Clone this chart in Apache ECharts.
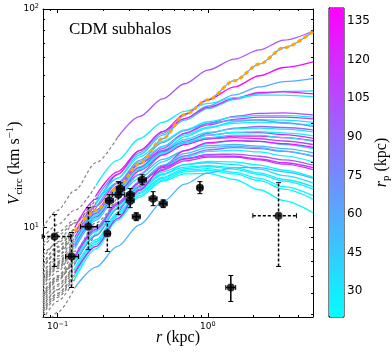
<!DOCTYPE html>
<html>
<head>
<meta charset="utf-8">
<script src="https://cdn.jsdelivr.net/npm/echarts@6/dist/echarts.min.js"></script>
<style>
html, body { margin: 0; padding: 0; background: #fff; }
#chart { width: 392px; height: 352px; }
</style>
</head>
<body>
<div id="chart"></div>
<script>
const rGrid = [0.08, 0.1, 0.13, 0.18, 0.25, 0.35, 0.5, 0.7, 1.0, 1.5, 2.2, 3.2, 5];

// pericentre of every subhalo (kpc)
const curveRp = [100, 62, 135, 60, 45, 125, 28, 105, 112, 35, 25, 95, 32, 132, 110, 40, 55,
	25, 100, 115, 22, 35, 28, 24, 22, 55, 26, 30, 70, 120, 38, 90, 130, 24, 48, 118, 27];
// index in rGrid where the curve becomes resolved (dashed grey before it)
const curveConv = [4, 2, 3, 3, 3, 2, 3, 4, 2, 2, 3, 4, 2, 2, 2, 4, 2,
	2, 4, 2, 2, 2, 2, 2, 2, 2, 2, 2, 3, 2, 2, 2, 2, 2, 3, 2, 3];
// Vcirc (km/s) on rGrid
const curveV = [
	[10, 12, 14.8, 19.8, 25.8, 32.2, 38.8, 45.5, 52.5, 59, 65, 72, 79.3],
	[6.5, 7.8, 9.6, 12, 15.2, 19.6, 25.5, 32.8, 38.4, 47, 56, 66.5, 79],
	[7.2, 8.6, 10.5, 14, 18, 22.5, 27.5, 33, 38.4, 44, 49.5, 54, 57.3],
	[8.2, 9.2, 10.5, 13.5, 17.5, 22, 27, 31.5, 36, 40.5, 44, 46.5, 48],
	[6.6, 7.8, 9.5, 12.8, 16.8, 21.5, 26.5, 31, 35, 38.5, 41, 42, 42.2],
	[6.8, 8.2, 10, 13.5, 17.5, 22.5, 27.5, 31.5, 35.5, 39, 41.5, 41.8, 40.9],
	[9, 10.3, 12, 15.6, 20.3, 25.5, 30.3, 34, 37, 39.3, 40.4, 40.4, 39.7],
	[7.5, 8.5, 9.8, 12, 14.8, 18.8, 23, 27, 30, 32.3, 33.3, 33.5, 32.8],
	[6.2, 7.4, 9, 12, 15.5, 19.5, 23.5, 27, 29.5, 31.3, 32, 32, 31.4],
	[5.5, 6.6, 8.2, 11, 14.5, 18.5, 22.5, 26, 28.5, 30.5, 31.2, 31, 30.3],
	[8.5, 9.5, 10.8, 13, 16, 20, 23.5, 26.5, 28.8, 30, 30.4, 30, 29.4],
	[5.2, 6.3, 7.8, 10.5, 13.8, 17.5, 21.5, 24.5, 27, 28.5, 29, 28.7, 28],
	[6, 7.2, 8.8, 11.8, 15.2, 19, 22.5, 25.3, 27.3, 28.3, 28.5, 28.2, 27.4],
	[5.6, 6.7, 8.3, 11.2, 14.5, 18.2, 21.5, 24, 25.5, 26.2, 26.2, 25.8, 25],
	[6.5, 7.7, 9.4, 12.5, 16, 19.6, 22.5, 24.5, 25.5, 25.8, 25.5, 24.9, 24],
	[5, 6, 7.5, 10.2, 13.3, 16.8, 20, 22.5, 24.2, 25, 24.8, 24, 23],
	[5.4, 6.5, 8, 10.8, 14, 17.5, 20.5, 22.5, 23.7, 24, 23.6, 23, 22],
	[4.8, 5.8, 7.2, 9.8, 12.8, 16, 19, 21, 22.3, 22.6, 22.2, 21.3, 20],
	[4.4, 5.2, 6.4, 8.6, 11.5, 15, 18.5, 20.7, 21.6, 21.7, 21.2, 20.4, 19.3],
	[4.5, 5.4, 6.8, 9.2, 12.2, 15.4, 18.3, 20.2, 21, 21, 20.4, 19.5, 18.4],
	[4.3, 5.2, 6.5, 8.8, 11.7, 14.8, 17.5, 19.4, 20.1, 20, 19.3, 18.3, 17],
	[4.8, 5.8, 7.1, 9.6, 12.6, 15.6, 18, 19.4, 19.8, 19.4, 18.5, 17.3, 16],
	[4.2, 5, 6.3, 8.6, 11.5, 14.5, 17, 18.6, 19, 18.5, 17.5, 16.3, 15],
	[4, 4.8, 6, 8.2, 11, 14, 16.5, 18, 18.3, 17.6, 16.4, 15, 13.5],
	[3.8, 4.6, 5.8, 8, 10.8, 13.8, 16.3, 17.6, 17.7, 16.6, 14.9, 13.3, 11.7],
	[3.3, 4.1, 5.3, 6.6, 8.2, 10.3, 13.1, 15.8, 17.8, 18.8, 18.8, 18, 16.8],
	[4.1, 4.9, 6.1, 8.4, 11.3, 14.3, 16.8, 18.3, 18.6, 17.9, 16.8, 15.4, 14],
	[4.6, 5.5, 6.9, 9.3, 12.3, 15.2, 17.6, 18.9, 19.2, 18.8, 17.8, 16.6, 15.4],
	[6.2, 7.4, 9.1, 12.3, 16, 20.3, 24.5, 27.8, 30, 31, 31, 30.2, 29],
	[5.9, 7, 8.6, 11.6, 15, 18.8, 22.2, 24.8, 26.5, 27.2, 27.2, 26.6, 25.6],
	[5.7, 6.8, 8.4, 11.3, 14.7, 18.4, 21.8, 24.3, 25.8, 26.5, 26.4, 25.8, 24.8],
	[5, 6, 7.4, 10, 13, 16.2, 19.2, 21.3, 22.7, 23.2, 23, 22.3, 21.2],
	[4.2, 5, 6.2, 8.2, 11, 14.8, 19, 22.5, 24.5, 25, 24.8, 24.2, 23.3],
	[5.8, 6.9, 8.5, 11.4, 14.8, 18.6, 22, 24.6, 26.4, 27.3, 27.5, 27.1, 26.3],
	[4.7, 5.7, 7, 9.5, 12.6, 16, 19.3, 21.8, 23.2, 23.6, 23.2, 22.4, 21.3],
	[4.9, 5.9, 7.3, 9.8, 12.8, 16, 18.8, 20.6, 21.3, 21.2, 20.6, 19.8, 18.8],
	[6.8, 8.1, 9.8, 13, 16.8, 21, 24.8, 28, 30.5, 32, 32.6, 32.5, 32]
];

// highlighted (orange dotted) curve
const fitR = [0.13, 0.18, 0.25, 0.35, 0.5, 0.7, 1.0, 1.5, 2.2, 3.2, 5];
const fitV = [9.6, 12, 15.2, 19.6, 25.5, 32.8, 38.4, 47, 56, 66.5, 79];

// observed dwarf rotation points with errors
const obsR   = [0.0955, 0.1238, 0.1604, 0.2143, 0.221, 0.2535, 0.2614, 0.304, 0.304, 0.334, 0.3656, 0.432, 0.504, 0.885, 2.95, 1.42];
const obsV   = [9.1, 7.37, 10.1, 9.39, 13.28, 14.15, 15.07, 14.15, 13.28, 11.22, 16.56, 13.56, 12.87, 15.23, 11.34, 5.32];
const obsRLo = [0.079, 0.113, 0.142, 0.205, 0.208, 0.231, 0.246, 0.286, 0.286, 0.314, 0.344, 0.406, 0.474, 0.85, 1.99, 1.315];
const obsRHi = [0.122, 0.1377, 0.184, 0.224, 0.235, 0.278, 0.278, 0.323, 0.323, 0.355, 0.389, 0.459, 0.536, 0.92, 3.88, 1.53];
const obsVLo = [6.64, 5.32, 7.93, 7.77, 12.34, 11.47, 14.15, 13.3, 12.34, 10.76, 15.7, 12.6, 12.34, 14.3, 6.64, 4.59];
const obsVHi = [11.47, 9.49, 12.34, 10.65, 14.15, 16.23, 16.05, 15.1, 14.3, 11.7, 17.45, 14.6, 13.4, 16.23, 16.05, 6.04];
const obsDashV = [1, 1, 1, 1, 0, 1, 0, 0, 0, 0, 0, 0, 0, 0, 1, 0];
const obsDashH = [1, 0, 0, 0, 0, 0, 0, 0, 0, 0, 0, 0, 0, 0, 1, 0];

// tick positions
const xMajor = [0.1, 1];
const xMinor = [0.09, 0.2, 0.3, 0.4, 0.5, 0.6, 0.7, 0.8, 0.9, 2, 3, 4];
const yMajor = [10, 100];
const yMinor = [4, 5, 6, 7, 8, 9, 20, 30, 40, 50, 60, 70, 80, 90];
const cbTicks = [30, 45, 60, 75, 90, 105, 120, 135];

const SERIF = 'Liberation Serif';
const SANS = 'DejaVu Sans';

function coolColor(rp) {
	const t = Math.min(1, Math.max(0, (rp - 20) / 120));
	return 'rgb(' + Math.round(255 * t) + ',' + Math.round(255 * (1 - t)) + ',255)';
}

const powLabel = {
	formatter: (v) => '{b|10}{s|' + String(Math.round(Math.log10(v))).replace('-', '\u2212') + '}',
	rich: {
		b: { fontFamily: SANS, fontSize: 9, lineHeight: 12, color: '#000' },
		s: { fontFamily: SANS, fontSize: 6.5, lineHeight: 6, verticalAlign: 'top', color: '#000' }
	}
};

// one log axis per side and per tick size (matplotlib inward ticks on all four sides)
function logAxis(position, min, max, ticks, len, withLabels) {
	return {
		type: 'log',
		logBase: 10,
		gridIndex: 0,
		position: position,
		min: min,
		max: max,
		axisLine: { show: len > 3, lineStyle: { color: '#000', width: 1 } },
		axisTick: { show: true, inside: true, length: len, customValues: ticks, lineStyle: { color: '#000', width: 1 } },
		axisLabel: withLabels ? Object.assign({ show: true, customValues: ticks, margin: 4 }, powLabel) : { show: false },
		splitLine: { show: false },
		minorTick: { show: false }
	};
}

const xAxes = [
	logAxis('bottom', 0.08, 5, xMajor, 4, true),
	logAxis('bottom', 0.08, 5, xMinor, 2, false),
	logAxis('top', 0.08, 5, xMajor, 4, false),
	logAxis('top', 0.08, 5, xMinor, 2, false)
];
Object.assign(xAxes[0], {
	name: '{i|r} (kpc)',
	nameLocation: 'middle',
	nameGap: 13,
	nameMoveOverlap: false,
	nameTextStyle: {
		fontFamily: SERIF, fontSize: 16, color: '#000',
		rich: { i: { fontFamily: SERIF, fontSize: 16, fontStyle: 'italic', color: '#000' } }
	}
});

const yAxes = [
	logAxis('left', 3.9, 100, yMajor, 4, true),
	logAxis('left', 3.9, 100, yMinor, 2, false),
	logAxis('right', 3.9, 100, yMajor, 4, false),
	logAxis('right', 3.9, 100, yMinor, 2, false)
];
Object.assign(yAxes[0], {
	name: '{i|V}{sub|circ}{n| (km s}{sup|\u22121}{n|)}',
	nameLocation: 'middle',
	nameRotate: 90,
	nameGap: 18,
	nameMoveOverlap: false,
	nameTextStyle: {
		fontFamily: SERIF, fontSize: 16, color: '#000',
		rich: {
			i: { fontFamily: SERIF, fontSize: 16, fontStyle: 'italic', lineHeight: 20, color: '#000' },
			n: { fontFamily: SERIF, fontSize: 16, lineHeight: 20, color: '#000' },
			sub: { fontFamily: SERIF, fontSize: 11, lineHeight: 10, verticalAlign: 'bottom', color: '#000' },
			sup: { fontFamily: SERIF, fontSize: 11, lineHeight: 10, verticalAlign: 'top', color: '#000' }
		}
	}
});

// colorbar axis
xAxes.push({ type: 'value', gridIndex: 1, show: false, min: 0, max: 1 });
yAxes.push({
	type: 'value',
	gridIndex: 1,
	position: 'right',
	min: 20,
	max: 140,
	axisLine: { show: true, lineStyle: { color: '#000', width: 1 } },
	axisTick: { show: true, inside: false, length: 3, customValues: cbTicks, lineStyle: { color: '#000' } },
	axisLabel: { show: true, customValues: cbTicks, margin: 3, fontFamily: SANS, fontSize: 12, color: '#000' },
	splitLine: { show: false },
	name: '{i|r}{sub|p}{n| (kpc)}',
	nameLocation: 'middle',
	nameRotate: 90,
	nameGap: 28,
	nameMoveOverlap: false,
	nameTextStyle: {
		fontFamily: SERIF, fontSize: 16, color: '#000',
		rich: {
			i: { fontFamily: SERIF, fontSize: 16, fontStyle: 'italic', lineHeight: 20, color: '#000' },
			n: { fontFamily: SERIF, fontSize: 16, lineHeight: 20, color: '#000' },
			sub: { fontFamily: SERIF, fontSize: 11, lineHeight: 10, verticalAlign: 'bottom', color: '#000' }
		}
	}
});

const lineCommon = {
	xAxisIndex: 0,
	yAxisIndex: 0,
	showSymbol: false,
	symbol: 'none',
	smooth: 0.3,
	smoothMonotone: 'x',
	silent: true,
	animation: false
};

const series = [];

// unresolved inner parts, grey dashed
curveV.forEach((vals, i) => {
	const pts = rGrid.map((r, k) => [r, vals[k]]);
	series.push(Object.assign({
		type: 'line',
		data: pts.slice(0, curveConv[i] + 1),
		z: 2,
		lineStyle: { color: '#808080', width: 1.2, type: [3, 2.5] }
	}, lineCommon));
});

// resolved parts coloured by pericentre
curveV.forEach((vals, i) => {
	const pts = rGrid.map((r, k) => [r, vals[k]]);
	series.push(Object.assign({
		type: 'line',
		data: pts.slice(curveConv[i]),
		z: 3,
		lineStyle: { color: coolColor(curveRp[i]), width: 1.3 }
	}, lineCommon));
});

series.push(Object.assign({
	type: 'line',
	data: fitR.map((r, k) => [r, fitV[k]]),
	z: 4,
	lineStyle: { color: '#ffa500', width: 3, type: [4, 3] }
}, lineCommon));

const obsData = obsR.map((r, i) => [r, obsV[i], obsRLo[i], obsRHi[i], obsVLo[i], obsVHi[i], obsDashV[i], obsDashH[i]]);

series.push({
	type: 'custom',
	xAxisIndex: 0,
	yAxisIndex: 0,
	z: 5,
	silent: true,
	animation: false,
	data: obsData,
	renderItem: (params, api) => {
		const lft = api.coord([api.value(2), api.value(1)]);
		const rgt = api.coord([api.value(3), api.value(1)]);
		const bot = api.coord([api.value(0), api.value(4)]);
		const top = api.coord([api.value(0), api.value(5)]);
		const vStyle = { stroke: '#000', lineWidth: 1.5, lineDash: api.value(6) ? [3, 2] : null };
		const hStyle = { stroke: '#000', lineWidth: 1.5, lineDash: api.value(7) ? [3, 2] : null };
		const capStyle = { stroke: '#000', lineWidth: 1 };
		const cap = 2.5;
		return {
			type: 'group',
			children: [
				{ type: 'line', shape: { x1: lft[0], y1: lft[1], x2: rgt[0], y2: rgt[1] }, style: hStyle },
				{ type: 'line', shape: { x1: bot[0], y1: bot[1], x2: top[0], y2: top[1] }, style: vStyle },
				{ type: 'line', shape: { x1: bot[0] - cap, y1: bot[1], x2: bot[0] + cap, y2: bot[1] }, style: capStyle },
				{ type: 'line', shape: { x1: top[0] - cap, y1: top[1], x2: top[0] + cap, y2: top[1] }, style: capStyle },
				{ type: 'line', shape: { x1: lft[0], y1: lft[1] - cap, x2: lft[0], y2: lft[1] + cap }, style: capStyle },
				{ type: 'line', shape: { x1: rgt[0], y1: rgt[1] - cap, x2: rgt[0], y2: rgt[1] + cap }, style: capStyle }
			]
		};
	}
});

series.push({
	type: 'scatter',
	xAxisIndex: 0,
	yAxisIndex: 0,
	z: 6,
	silent: true,
	animation: false,
	symbol: 'circle',
	symbolSize: 8,
	itemStyle: { color: '#000' },
	data: obsR.map((r, i) => [r, obsV[i]])
});

// empty holder so the colour bar does not recolour anything
series.push({ type: 'scatter', xAxisIndex: 4, yAxisIndex: 4, data: [], silent: true });

const option = {
	animation: false,
	backgroundColor: '#fff',
	textStyle: { fontFamily: SANS },
	title: {
		text: 'CDM subhalos',
		left: 69,
		top: 21,
		padding: 0,
		textStyle: { fontFamily: SERIF, fontSize: 17, fontWeight: 'normal', color: '#000' }
	},
	grid: [
		{ left: 43, top: 9, width: 270, height: 308, show: false, outerBoundsMode: 'none', containLabel: false },
		{ left: 329, top: 8, width: 15, height: 309, show: true, borderColor: '#000', borderWidth: 1, backgroundColor: 'transparent', outerBoundsMode: 'none', containLabel: false }
	],
	visualMap: {
		type: 'continuous',
		min: 20,
		max: 140,
		seriesIndex: series.length - 1,
		calculable: false,
		orient: 'vertical',
		left: 329,
		top: 8,
		padding: 0,
		itemWidth: 15,
		itemHeight: 309,
		text: null,
		showLabel: false,
		inRange: { color: ['#00ffff', '#ff00ff'] }
	},
	xAxis: xAxes,
	yAxis: yAxes,
	series: series
};

const chart = echarts.init(document.getElementById('chart'), null, { renderer: 'canvas', devicePixelRatio: 1 });
chart.setOption(option);
</script>
</body>
</html>
